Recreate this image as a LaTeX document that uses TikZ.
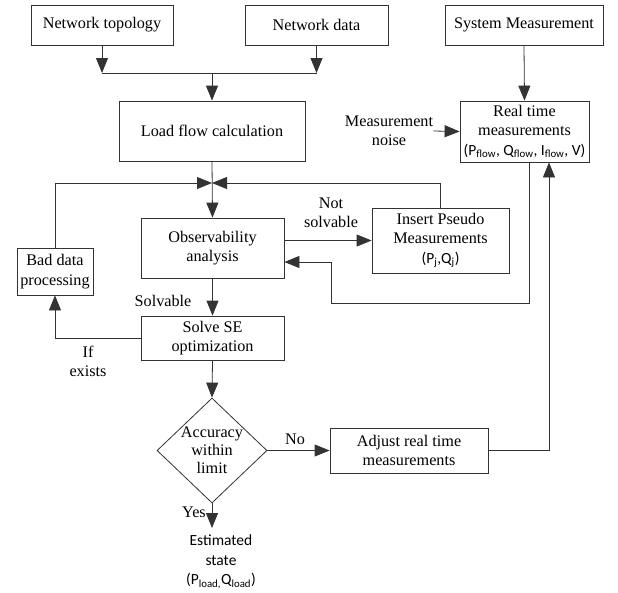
\documentclass[tikz,border=0pt]{standalone}
\usepackage{fontspec}
\setmainfont{Liberation Serif}
\newfontfamily\carl{Carlito}
\usetikzlibrary{arrows.meta,shapes.geometric}
\tikzset{
  ln/.style={draw=black!80, line width=0.8pt},
  arr/.style={ln, -{Triangle[length=15pt,width=12pt]}},
  box/.style={ln, rectangle, align=center, inner sep=0pt, font=\fontsize{16.2}{19.5}\selectfont},
  lbl/.style={align=center, inner sep=0pt, font=\fontsize{16.2}{19.5}\selectfont},
  slbl/.style={align=center, inner sep=0pt, font=\carl\fontsize{15.5}{19.5}\selectfont}
}
\begin{document}
\begin{tikzpicture}[x=1pt,y=-1pt]
\useasboundingbox (0,0) rectangle (618,592);
% boxes
\node[box, minimum width=142pt, minimum height=40pt] (topo) at (102,25) {Network topology};
\node[box, minimum width=143pt, minimum height=40pt] (data) at (316.5,25) {Network data};
\node[box, minimum width=158pt, minimum height=40pt] (sysm) at (524,25) {System Measurement};
\node[box, minimum width=186pt, minimum height=60pt] (lf) at (212,131) {Load flow calculation};
\node[box, minimum width=129pt, minimum height=61pt] (rt) at (524.5,131.5) {Real time\\measurements\\{\carl\fontsize{15.5}{19.5}\selectfont(P\textsubscript{flow}, Q\textsubscript{flow}, I\textsubscript{flow}, V)}};
\node[lbl] (noise) at (389,131) {Measurement\\noise};
\node[box, minimum width=143pt, minimum height=60pt] (obs) at (212.5,248) {Observability\\analysis};
\node[box, minimum width=137pt, minimum height=65pt] (ins) at (440.5,240.5) {Insert Pseudo\\Measurements\\{\carl\fontsize{15.5}{19.5}\selectfont(P\textsubscript{j},Q\textsubscript{j})}};
\node[box, minimum width=76pt, minimum height=47pt] (bad) at (55,271.5) {Bad data\\processing};
\node[box, minimum width=143pt, minimum height=44pt] (solve) at (212.5,338) {Solve SE\\optimization};
\node[ln, diamond, minimum width=110pt, minimum height=105pt, inner sep=0pt] (acc) at (212,450.5) {};
\node[lbl, font=\fontsize{16.2}{18}\selectfont] (acctxt) at (acc.center) {Accuracy\\within\\limit};
\node[box, minimum width=158pt, minimum height=45pt] (adj) at (409,450.5) {Adjust real time\\measurements};
\node[slbl] (est) at (221,562) {Estimated\\state\\(P\textsubscript{load,}Q\textsubscript{load})};
% labels
\node[lbl] (notsolv) at (331,213) {Not\\solvable};
\node[lbl] (solv) at (163,301) {Solvable};
\node[lbl] (ifex) at (88,361.5) {If\\exists};
\node[lbl] (no) at (295,439) {No};
\node[lbl] (yes) at (194,512) {Yes};
% coordinates
\coordinate (j1) at (212,73);
\coordinate (j2) at (212,183);
\coordinate (ret) at (331,303);
\coordinate (estc) at (212,528);
% connectors
\draw[arr] (topo.south) -- (topo.south |- j1);
\draw[arr] (data.south) -- (data.south |- j1);
\draw[ln] (topo.south |- j1) -- (data.south |- j1);
\draw[arr] (j1) -- (lf.north);
\draw[arr] (sysm.south) -- (rt.north);
\draw[arr] (noise.east) -- (rt.west);
\draw[arr] (lf.south) -- (obs.north);
\draw[arr] (bad.north) |- (j2);
\draw[arr] (ins.north) |- (j2);
\draw[arr] (obs.east |- ins.west) -- (ins.west);
\draw[arr] ([xshift=4.5pt]rt.south) |- (ret) |- ([yshift=-14pt]obs.east);
\draw[arr] (obs.south) -- (solve.north);
\draw[arr] (solve.west) -| (bad.south);
\draw[arr] (solve.south) -- (acc.north);
\draw[arr] (acc.east) -- (adj.west);
\draw[arr] (adj.east) -| ([xshift=24.5pt]rt.south);
\draw[arr] (acc.south) -- (estc);
\end{tikzpicture}
\end{document}
